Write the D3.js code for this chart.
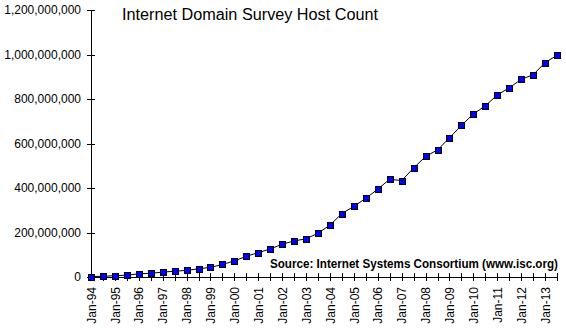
<!DOCTYPE html>
<html><head><meta charset="utf-8">
<script src="https://cdn.jsdelivr.net/npm/d3@7"></script>
<style>body{margin:0;background:#fff}svg{display:block}text{font-family:Arial,"Liberation Sans",sans-serif}</style>
</head><body><svg id="c" width="566" height="332"></svg>
<script>
const periods = [];
const years = ["94","95","96","97","98","99","00","01","02","03","04","05","06","07","08","09","10","11","12","13"];
years.forEach(y => { periods.push("Jan-" + y); periods.push("Jul-" + y); });
const hosts = [
  2217000, 3212000, 5846000, 8200000, 14352000, 16729000, 21819000, 26053000,
  29670000, 36739000, 43230000, 56218000, 72398092, 93047785, 109574429, 125888197,
  147344723, 162128493, 171638297, 197000000, 233101481, 285139107, 317646084, 353284187,
  394991609, 439286364, 433193199, 489774269, 541677360, 570937778, 625226456, 681064561,
  732740444, 768913036, 818374269, 849869781, 888239420, 908585739, 963518598, 996230757
];
const yTicks = [0, 200000000, 400000000, 600000000, 800000000, 1000000000, 1200000000];
const title = "Internet Domain Survey Host Count";
const source = "Source: Internet Systems Consortium (www.isc.org)";

const svg = d3.select("#c");
const x = d3.scalePoint().domain(periods).range([91, 557]);
const y = d3.scaleLinear().domain([0, 1200000000]).range([277, 10]);
const fmt = d3.format(",");

// Y axis
const ya = svg.append("g").attr("transform", "translate(91,0)")
  .call(d3.axisLeft(y).tickValues(yTicks).tickFormat(fmt).tickSize(4).tickPadding(6).tickSizeOuter(0));
ya.select(".domain").attr("stroke", "#000").attr("shape-rendering", "crispEdges");
ya.selectAll(".tick line").attr("x2", 4).attr("x1", -4).attr("stroke", "#000").attr("shape-rendering", "crispEdges");
ya.selectAll("text").attr("font-size", 12).attr("fill", "#000").attr("font-family", "Arial, 'Liberation Sans', sans-serif");

// X axis
const xa = svg.append("g").attr("transform", "translate(0,277)")
  .call(d3.axisBottom(x).tickSize(4).tickSizeOuter(0).tickFormat(d => d.startsWith("Jan") ? d : ""));
xa.select(".domain").attr("stroke", "#000").attr("shape-rendering", "crispEdges");
xa.selectAll(".tick line").attr("y1", -4).attr("y2", 4).attr("stroke", "#000").attr("shape-rendering", "crispEdges");
xa.selectAll("text").attr("font-size", 12).attr("fill", "#000")
  .attr("font-family", "Arial, 'Liberation Sans', sans-serif")
  .attr("transform", "rotate(-90)").attr("text-anchor", "end")
  .attr("x", -10).attr("y", 0).attr("dy", "0.35em");

// Line
const line = d3.line().x((d, i) => x(periods[i])).y(d => y(d));
svg.append("path").datum(hosts).attr("d", line).attr("fill", "none").attr("stroke", "#000").attr("stroke-width", 1);

// Markers
svg.append("g").selectAll("rect").data(hosts).join("rect")
  .attr("x", (d, i) => Math.round(x(periods[i])) - 3)
  .attr("y", d => Math.round(y(d)) - 3)
  .attr("width", 6).attr("height", 6)
  .attr("fill", "#0000ff").attr("stroke", "#000").attr("stroke-width", 1)
  .attr("shape-rendering", "crispEdges");

// Title
svg.append("text").attr("x", 122).attr("y", 20).attr("font-size", 16).attr("fill", "#000")
  .attr("textLength", 256).attr("lengthAdjust", "spacingAndGlyphs").text(title);
// Source
svg.append("text").attr("x", 270).attr("y", 268)
  .attr("font-size", 12).attr("font-weight", "bold").attr("fill", "#000")
  .attr("textLength", 288).attr("lengthAdjust", "spacingAndGlyphs").text(source);
</script></body></html>
